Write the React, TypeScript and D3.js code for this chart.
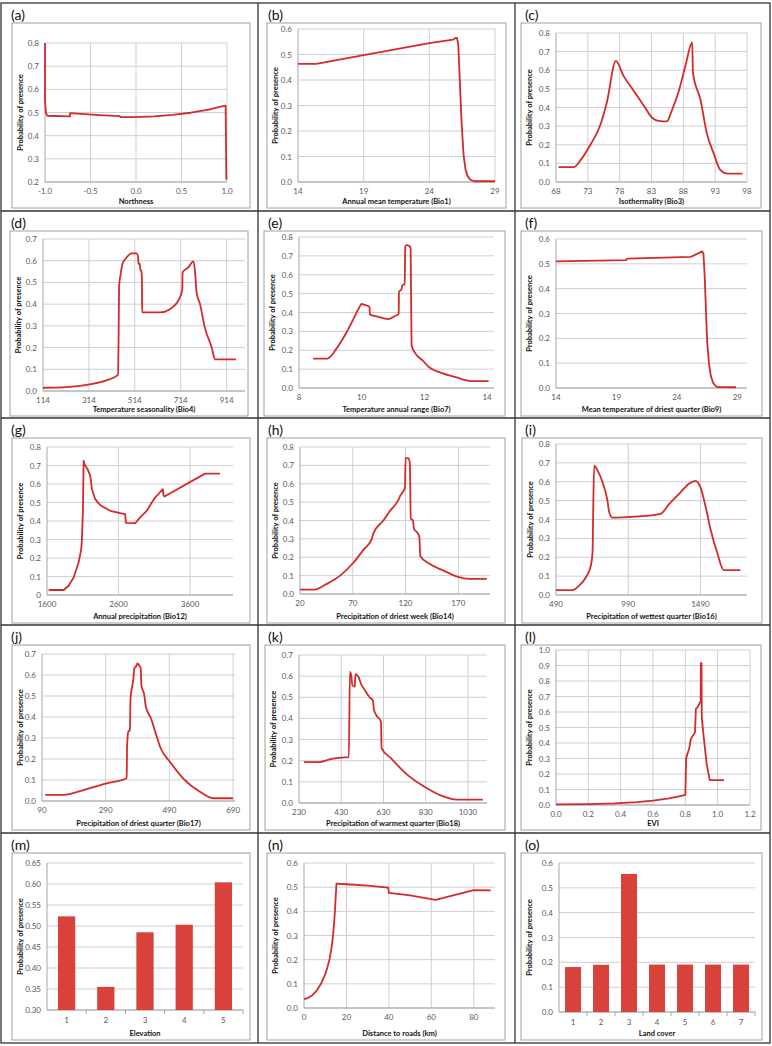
import React from 'react';
import * as d3 from 'd3';

// ---------- DATA ----------
const northnessX = [-1.0, -1.0, -0.99, -0.975, -0.725, -0.725, -0.6, -0.4, -0.18, -0.17, 0.0, 0.2, 0.4, 0.6, 0.8, 0.93, 0.985, 0.993];
const northnessY = [0.80, 0.55, 0.50, 0.486, 0.483, 0.497, 0.494, 0.489, 0.484, 0.480, 0.480, 0.483, 0.490, 0.499, 0.512, 0.525, 0.530, 0.21];

const bio1X = [14, 15.4, 19, 24, 25.8, 26.0, 26.1, 26.2, 26.3, 26.45, 26.6, 26.75, 26.9, 27.1, 27.4, 29];
const bio1Y = [0.463, 0.463, 0.498, 0.545, 0.558, 0.565, 0.565, 0.54, 0.42, 0.24, 0.11, 0.05, 0.025, 0.01, 0.003, 0.003];

const bio3X = [68.4, 70.8, 71.8, 73.4, 75.0, 76.0, 77.4, 78.6, 80.2, 81.8, 83.1, 83.9, 85.4, 86.2, 87.3, 88.3, 89.4, 89.5, 90.7, 91.7, 92.8, 93.8, 94.9, 97.3];
const bio3Y = [0.08, 0.08, 0.115, 0.2, 0.31, 0.43, 0.65, 0.57, 0.49, 0.41, 0.345, 0.33, 0.325, 0.385, 0.49, 0.62, 0.75, 0.59, 0.44, 0.26, 0.15, 0.065, 0.045, 0.045];

const bio4X = [114, 216, 318, 390, 441, 446, 451, 460, 478, 499, 521, 528, 530, 536, 538, 543, 545, 546, 623, 667, 710, 721, 722, 747, 769, 776, 783, 798, 819, 849, 863, 955];
const bio4Y = [0.015, 0.018, 0.031, 0.049, 0.074, 0.49, 0.53, 0.585, 0.615, 0.634, 0.634, 0.62, 0.585, 0.585, 0.56, 0.55, 0.5, 0.362, 0.362, 0.377, 0.43, 0.469, 0.546, 0.569, 0.597, 0.554, 0.454, 0.40, 0.292, 0.20, 0.146, 0.146];

const bio7X = [8.45, 8.9, 9.2, 9.5, 9.75, 9.9, 10.0, 10.1, 10.25, 10.26, 10.5, 10.85, 11.05, 11.18, 11.19, 11.26, 11.3, 11.37, 11.39, 11.44, 11.52, 11.56, 11.59, 11.75, 11.95, 12.15, 12.5, 13.0, 13.55, 14.05];
const bio7Y = [0.156, 0.156, 0.21, 0.29, 0.37, 0.42, 0.445, 0.44, 0.43, 0.39, 0.378, 0.365, 0.38, 0.392, 0.51, 0.52, 0.545, 0.55, 0.75, 0.757, 0.752, 0.74, 0.225, 0.175, 0.145, 0.11, 0.083, 0.057, 0.036, 0.036];

const bio9X = [14, 19.8, 19.9, 25.15, 26.1, 26.2, 26.3, 26.4, 26.5, 26.65, 26.8, 27.0, 27.3, 28.9];
const bio9Y = [0.51, 0.515, 0.521, 0.528, 0.55, 0.54, 0.45, 0.32, 0.19, 0.1, 0.05, 0.02, 0.004, 0.003];

const bio12X = [1623, 1833, 1902, 1972, 2042, 2079, 2088, 2098, 2102, 2112, 2126, 2167, 2205, 2228, 2274, 2344, 2484, 2623, 2693, 2702, 2833, 2902, 2995, 3065, 3112, 3219, 3228, 3242, 3809, 4019];
const bio12Y = [0.027, 0.027, 0.05, 0.095, 0.176, 0.248, 0.30, 0.41, 0.455, 0.725, 0.706, 0.68, 0.644, 0.572, 0.518, 0.485, 0.455, 0.442, 0.437, 0.39, 0.388, 0.42, 0.455, 0.50, 0.527, 0.572, 0.54, 0.532, 0.656, 0.656];

const bio14X = [20, 34, 45, 58, 70.5, 80, 88, 89.5, 99, 105, 113, 115, 119.5, 120, 122.6, 124, 125, 127, 128, 131, 133, 134, 143, 156, 168, 181, 197];
const bio14Y = [0.024, 0.024, 0.054, 0.1, 0.17, 0.24, 0.30, 0.33, 0.4, 0.45, 0.51, 0.535, 0.58, 0.74, 0.74, 0.715, 0.41, 0.4, 0.353, 0.335, 0.313, 0.205, 0.163, 0.127, 0.096, 0.082, 0.082];

const bio16X = [490, 605, 651, 697, 731, 743, 747, 754, 777, 811, 846, 858, 880, 1030, 1214, 1271, 1352, 1410, 1456, 1490, 1524, 1559, 1605, 1651, 1766];
const bio16Y = [0.026, 0.026, 0.05, 0.094, 0.155, 0.226, 0.42, 0.685, 0.66, 0.6, 0.5, 0.44, 0.41, 0.415, 0.43, 0.48, 0.544, 0.59, 0.605, 0.57, 0.473, 0.35, 0.226, 0.132, 0.132];

const bio17X = [100, 158, 220, 293, 356, 357, 361, 366, 368, 373, 377, 380, 385, 390, 395, 400, 402, 411, 416, 432, 447, 463, 492, 533, 586, 628, 690];
const bio17Y = [0.029, 0.029, 0.052, 0.084, 0.108, 0.25, 0.33, 0.338, 0.49, 0.545, 0.584, 0.632, 0.64, 0.655, 0.645, 0.632, 0.552, 0.505, 0.45, 0.394, 0.322, 0.25, 0.186, 0.108, 0.044, 0.013, 0.013];

const bio18X = [253, 323, 385, 432, 466, 471, 478, 482, 494, 497, 510, 525, 541, 564, 580, 584, 595, 618, 621, 665, 742, 820, 913, 975, 1100];
const bio18Y = [0.193, 0.193, 0.209, 0.215, 0.217, 0.62, 0.6, 0.56, 0.55, 0.61, 0.6, 0.56, 0.535, 0.5, 0.485, 0.445, 0.417, 0.385, 0.26, 0.212, 0.134, 0.079, 0.031, 0.016, 0.016];

const eviX = [0.0, 0.2, 0.36, 0.5, 0.6, 0.7, 0.76, 0.8, 0.805, 0.813, 0.823, 0.834, 0.86, 0.865, 0.875, 0.885, 0.895, 0.896, 0.9, 0.902, 0.916, 0.932, 0.951, 1.04];
const eviY = [0.004, 0.006, 0.01, 0.018, 0.028, 0.043, 0.055, 0.065, 0.30, 0.33, 0.36, 0.425, 0.47, 0.62, 0.63, 0.65, 0.67, 0.915, 0.915, 0.56, 0.415, 0.265, 0.16, 0.16];

const elevationCats = ['1', '2', '3', '4', '5'];
const elevationVals = [0.523, 0.355, 0.485, 0.503, 0.604];

const roadsX = [0, 2, 4, 6, 8, 10, 11, 12, 13, 13.8, 14.5, 15.3, 20, 30, 39.7, 40, 50, 62, 80, 88];
const roadsY = [0.037, 0.042, 0.053, 0.072, 0.1, 0.14, 0.168, 0.2, 0.25, 0.31, 0.39, 0.515, 0.512, 0.506, 0.498, 0.476, 0.466, 0.447, 0.488, 0.487];

const landCats = ['1', '2', '3', '4', '5', '6', '7'];
const landVals = [0.181, 0.19, 0.556, 0.191, 0.191, 0.191, 0.191];

// tick arrays
const ticks02to08 = [0.2, 0.3, 0.4, 0.5, 0.6, 0.7, 0.8];
const ticks0to06 = [0, 0.1, 0.2, 0.3, 0.4, 0.5, 0.6];
const ticks0to07 = [0, 0.1, 0.2, 0.3, 0.4, 0.5, 0.6, 0.7];
const ticks0to08 = [0, 0.1, 0.2, 0.3, 0.4, 0.5, 0.6, 0.7, 0.8];
const ticks0to10 = [0, 0.1, 0.2, 0.3, 0.4, 0.5, 0.6, 0.7, 0.8, 0.9, 1.0];
const ticksElev = [0.30, 0.35, 0.40, 0.45, 0.50, 0.55, 0.60, 0.65];

const xTicksNorth = [-1.0, -0.5, 0.0, 0.5, 1.0];
const xTicksTemp = [14, 19, 24, 29];
const xTicksBio3 = [68, 73, 78, 83, 88, 93, 98];
const xTicksBio4 = [114, 314, 514, 714, 914];
const xTicksBio7 = [8, 10, 12, 14];
const xTicksBio12 = [1600, 2600, 3600];
const xTicksBio14 = [20, 70, 120, 170];
const xTicksBio16 = [490, 990, 1490];
const xTicksBio17 = [90, 290, 490, 690];
const xTicksBio18 = [230, 430, 630, 830, 1030];
const xTicksEvi = [0, 0.2, 0.4, 0.6, 0.8, 1.0, 1.2];
const xTicksRoads = [0, 20, 40, 60, 80];

// ---------- LAYOUT / STYLE ----------
const FONT = "Lato, 'Open Sans', 'DejaVu Sans', sans-serif";
const RED = '#d42a2a';
const BARFILL = '#d9413b';
const GRID = '#cfcfcf';
const AXIS = '#a6a6a6';
const COLS = [1, 258, 515];
const ROWS = [3, 211, 418, 625, 833];

const f1 = (d: number) => d.toFixed(1);
const f2 = (d: number) => d.toFixed(2);
const f0 = (d: number) => String(d);

type Cfg = {
  id: string; col: number; row: number;
  box: [number, number]; l: number; r: number; t: number; b: number;
  kind: 'line' | 'bar';
  xs?: number[]; ys?: number[]; smooth?: boolean;
  xDomain?: [number, number]; xTicks?: number[]; xFmt?: (d: number) => string; vgrid?: boolean;
  cats?: string[]; vals?: number[]; pad?: number;
  yDomain: [number, number]; yTicks: number[]; yFmt: (d: number) => string;
  xTitle: string;
};

const panels: Cfg[] = [
  { id: 'a', col: 0, row: 0, box: [11, 249], l: 44, r: 226, t: 40, b: 179, kind: 'line', xs: northnessX, ys: northnessY, smooth: false, xDomain: [-1, 1], xTicks: xTicksNorth, xFmt: f1, vgrid: true, yDomain: [0.2, 0.8], yTicks: ticks02to08, yFmt: f1, xTitle: 'Northness' },
  { id: 'b', col: 1, row: 0, box: [9, 248], l: 40, r: 237, t: 26, b: 179, kind: 'line', xs: bio1X, ys: bio1Y, smooth: false, xDomain: [14, 29], xTicks: xTicksTemp, xFmt: f0, vgrid: true, yDomain: [0, 0.6], yTicks: ticks0to06, yFmt: f1, xTitle: 'Annual mean temperature (Bio1)' },
  { id: 'c', col: 2, row: 0, box: [6, 246], l: 41, r: 232, t: 30, b: 179, kind: 'line', xs: bio3X, ys: bio3Y, smooth: true, xDomain: [68, 98], xTicks: xTicksBio3, xFmt: f0, vgrid: true, yDomain: [0, 0.8], yTicks: ticks0to08, yFmt: f1, xTitle: 'Isothermality (Bio3)' },
  { id: 'd', col: 0, row: 1, box: [9, 247], l: 42, r: 244, t: 28, b: 180, kind: 'line', xs: bio4X, ys: bio4Y, smooth: true, xDomain: [114, 994], xTicks: xTicksBio4, xFmt: f0, vgrid: true, yDomain: [0, 0.7], yTicks: ticks0to07, yFmt: f1, xTitle: 'Temperature seasonality (Bio4)' },
  { id: 'e', col: 1, row: 1, box: [6, 247], l: 41, r: 236, t: 26, b: 177, kind: 'line', xs: bio7X, ys: bio7Y, smooth: true, xDomain: [8, 14.22], xTicks: xTicksBio7, xFmt: f0, vgrid: false, yDomain: [0, 0.8], yTicks: ticks0to08, yFmt: f1, xTitle: 'Temperature annual range (Bio7)' },
  { id: 'f', col: 2, row: 1, box: [6, 247], l: 41, r: 232, t: 28, b: 177, kind: 'line', xs: bio9X, ys: bio9Y, smooth: false, xDomain: [14, 29.8], xTicks: xTicksTemp, xFmt: f0, vgrid: false, yDomain: [0, 0.6], yTicks: ticks0to06, yFmt: f1, xTitle: 'Mean temperature of driest quarter  (Bio9)' },
  { id: 'g', col: 0, row: 2, box: [11, 249], l: 46, r: 232, t: 29, b: 177, kind: 'line', xs: bio12X, ys: bio12Y, smooth: false, xDomain: [1600, 4200], xTicks: xTicksBio12, xFmt: f0, vgrid: true, yDomain: [0, 0.8], yTicks: ticks0to08, yFmt: (d) => (d === 0 ? '0' : d.toFixed(1)), xTitle: 'Annual precipitation (Bio12)' },
  { id: 'h', col: 1, row: 2, box: [9, 247], l: 42, r: 232, t: 29, b: 176, kind: 'line', xs: bio14X, ys: bio14Y, smooth: true, xDomain: [20, 200], xTicks: xTicksBio14, xFmt: f0, vgrid: true, yDomain: [0, 0.8], yTicks: ticks0to08, yFmt: f1, xTitle: 'Precipitation of driest week (Bio14)' },
  { id: 'i', col: 2, row: 2, box: [7, 247], l: 41, r: 232, t: 26, b: 177, kind: 'line', xs: bio16X, ys: bio16Y, smooth: true, xDomain: [490, 1812], xTicks: xTicksBio16, xFmt: f0, vgrid: true, yDomain: [0, 0.8], yTicks: ticks0to08, yFmt: f1, xTitle: 'Precipitation of wettest quarter (Bio16)' },
  { id: 'j', col: 0, row: 3, box: [11, 249], l: 41, r: 234, t: 29, b: 176, kind: 'line', xs: bio17X, ys: bio17Y, smooth: true, xDomain: [90, 696], xTicks: xTicksBio17, xFmt: f0, vgrid: true, yDomain: [0, 0.7], yTicks: ticks0to07, yFmt: f1, xTitle: 'Precipitation of driest quarter (Bio17)' },
  { id: 'k', col: 1, row: 3, box: [7, 247], l: 41, r: 229, t: 30, b: 178, kind: 'line', xs: bio18X, ys: bio18Y, smooth: true, xDomain: [230, 1120], xTicks: xTicksBio18, xFmt: f0, vgrid: true, yDomain: [0, 0.7], yTicks: ticks0to07, yFmt: f1, xTitle: 'Precipitation of warmest quarter (Bio18)' },
  { id: 'l', col: 2, row: 3, box: [6, 246], l: 41, r: 235, t: 25, b: 180, kind: 'line', xs: eviX, ys: eviY, smooth: false, xDomain: [0, 1.2], xTicks: xTicksEvi, xFmt: f1, vgrid: true, yDomain: [0, 1.0], yTicks: ticks0to10, yFmt: f1, xTitle: 'EVI' },
  { id: 'm', col: 0, row: 4, box: [11, 249], l: 46, r: 242, t: 30, b: 177, kind: 'bar', cats: elevationCats, vals: elevationVals, pad: 0.56, yDomain: [0.3, 0.65], yTicks: ticksElev, yFmt: f2, xTitle: 'Elevation' },
  { id: 'n', col: 1, row: 4, box: [9, 247], l: 46, r: 237, t: 30, b: 175, kind: 'line', xs: roadsX, ys: roadsY, smooth: false, xDomain: [0, 90], xTicks: xTicksRoads, xFmt: f0, vgrid: true, yDomain: [0, 0.6], yTicks: ticks0to06, yFmt: f1, xTitle: 'Distance to roads (km)' },
  { id: 'o', col: 2, row: 4, box: [6, 247], l: 44, r: 240, t: 30, b: 179, kind: 'bar', cats: landCats, vals: landVals, pad: 0.43, yDomain: [0, 0.6], yTicks: ticks0to06, yFmt: f1, xTitle: 'Land cover' },
];

function Panel({ c }: { c: Cfg }) {
  const ox = COLS[c.col];
  const oy = ROWS[c.row];
  const boxBottom = c.row === 4 ? 207 : 205;
  const y = d3.scaleLinear().domain(c.yDomain).range([c.b, c.t]);
  const yTitleX = c.box[0] + 8;
  const yMid = (c.t + c.b) / 2;

  let body: React.ReactNode = null;
  if (c.kind === 'line') {
    const x = d3.scaleLinear().domain(c.xDomain!).range([c.l, c.r]);
    const pts: [number, number][] = c.xs!.map((v, i) => [v, c.ys![i]]);
    const path = d3.line<[number, number]>().x((d) => x(d[0])).y((d) => y(d[1]))
      .curve(c.smooth ? d3.curveMonotoneX : d3.curveLinear)(pts) || '';
    body = (
      <g>
        {c.vgrid && c.xTicks!.slice(1).map((tv) => (
          <line key={'vg' + tv} x1={x(tv)} x2={x(tv)} y1={c.t} y2={c.b} stroke={GRID} strokeWidth={1} />
        ))}
        {c.yTicks.map((tv) => (
          <line key={'hg' + tv} x1={c.l} x2={c.r} y1={y(tv)} y2={y(tv)} stroke={GRID} strokeWidth={1} />
        ))}
        <line x1={c.l} x2={c.l} y1={c.t} y2={c.b} stroke={AXIS} strokeWidth={1} />
        <line x1={c.l} x2={c.r} y1={c.b} y2={c.b} stroke={AXIS} strokeWidth={1} />
        {c.xTicks!.map((tv) => (
          <text key={'xl' + tv} x={x(tv)} y={c.b + 12} textAnchor="middle" fontSize={8} fill="#595959">{c.xFmt!(tv)}</text>
        ))}
        <path d={path} fill="none" stroke={RED} strokeWidth={1.8} strokeLinejoin="round" />
      </g>
    );
  } else {
    const x = d3.scaleBand<string>().domain(c.cats!).range([c.l, c.r]).paddingInner(c.pad!).paddingOuter(c.pad! / 2);
    const step = x.step();
    body = (
      <g>
        {c.yTicks.map((tv) => (
          <line key={'hg' + tv} x1={c.l} x2={c.r} y1={y(tv)} y2={y(tv)} stroke={GRID} strokeWidth={1} />
        ))}
        <line x1={c.l} x2={c.l} y1={c.t} y2={c.b} stroke={AXIS} strokeWidth={1} />
        <line x1={c.l} x2={c.r} y1={c.b} y2={c.b} stroke={AXIS} strokeWidth={1} />
        {c.cats!.map((cat, i) => (
          <line key={'tk' + cat} x1={c.l + step * (i + 1)} x2={c.l + step * (i + 1)} y1={c.b} y2={c.b + 4} stroke={AXIS} strokeWidth={1} />
        ))}
        {c.cats!.map((cat, i) => (
          <rect key={'bar' + cat} x={x(cat)} y={y(c.vals![i])} width={x.bandwidth()} height={y(c.yDomain[0]) - y(c.vals![i])} fill={BARFILL} />
        ))}
        {c.cats!.map((cat) => (
          <text key={'xl' + cat} x={(x(cat) || 0) + x.bandwidth() / 2} y={c.b + 13} textAnchor="middle" fontSize={8} fill="#595959">{cat}</text>
        ))}
      </g>
    );
  }

  return (
    <g transform={`translate(${ox},${oy})`}>
      <text x={10} y={17} fontSize={14} fill="#111">({c.id})</text>
      <rect x={c.box[0]} y={20} width={c.box[1] - c.box[0]} height={boxBottom - 20} fill="#fff" stroke="#a0a0a0" strokeWidth={1} />
      {c.yTicks.map((tv) => (
        <text key={'yl' + tv} x={c.l - 6} y={y(tv) + 3} textAnchor="end" fontSize={8} fill="#595959">{c.yFmt(tv)}</text>
      ))}
      {body}
      <text x={yTitleX} y={yMid} transform={`rotate(-90,${yTitleX},${yMid})`} textAnchor="middle" dominantBaseline="central" fontSize={7.5} fontWeight="bold" fill="#111">Probability of presence</text>
      <text x={(c.l + c.r) / 2} y={boxBottom - 4} textAnchor="middle" fontSize={7.5} fontWeight="bold" fill="#111">{c.xTitle}</text>
    </g>
  );
}

export default function App() {
  return (
    <svg width={772} height={1046} style={{ position: 'absolute', left: 0, top: 0, background: '#fff' }} fontFamily={FONT}>
      <rect x={0} y={0} width={772} height={1046} fill="#fff" />
      {panels.map((p) => <Panel key={p.id} c={p} />)}
      <rect x={1} y={3} width={769} height={1040} fill="none" stroke="#333" strokeWidth={1.3} />
      {[258, 515].map((xv) => <line key={'cv' + xv} x1={xv} x2={xv} y1={3} y2={1043} stroke="#333" strokeWidth={1.3} />)}
      {[211, 418, 625, 833].map((yv) => <line key={'rh' + yv} x1={1} x2={770} y1={yv} y2={yv} stroke="#333" strokeWidth={1.3} />)}
    </svg>
  );
}
